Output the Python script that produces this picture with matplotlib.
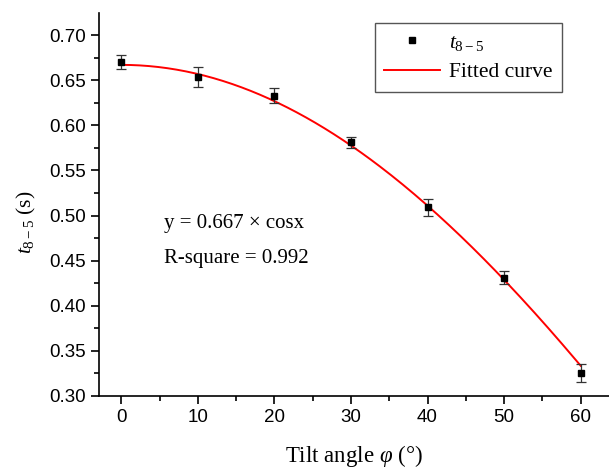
import numpy as np
import matplotlib.pyplot as plt
from matplotlib.lines import Line2D
from matplotlib.ticker import MultipleLocator

angles = [0, 10, 20, 30, 40, 50, 60]
t85 = [0.670, 0.654, 0.633, 0.581, 0.509, 0.431, 0.325]
t85_err = [0.008, 0.011, 0.008, 0.006, 0.009, 0.007, 0.010]

# fit parameter quoted on the chart: y = A * cos(x)
fit_A = 0.667
fit_r2 = 0.992

serif = 'Liberation Serif'
plt.rcParams['font.family'] = ['Liberation Sans', 'DejaVu Sans']
plt.rcParams['mathtext.fontset'] = 'custom'
plt.rcParams['mathtext.rm'] = 'Liberation Serif'
plt.rcParams['mathtext.it'] = 'Liberation Serif:italic'

fig = plt.figure(figsize=(6.09, 4.69), dpi=100)
ax = fig.add_axes([0.1626, 0.1557, 0.8374, 0.8166])

xs = np.linspace(angles[0], angles[-1], 200)
ax.plot(xs, fit_A * np.cos(np.radians(xs)), color='red', lw=1.4, zorder=2)
ax.errorbar(angles, t85, yerr=t85_err, fmt='s', color='black', ms=5,
            ecolor='#333333', elinewidth=0.9, capsize=3.5, capthick=0.9,
            zorder=3)

ax.set_xlim(-2.9, 63.7)
ax.set_ylim(0.30, 0.7245)
ax.xaxis.set_major_locator(MultipleLocator(10))
ax.xaxis.set_minor_locator(MultipleLocator(5))
ax.yaxis.set_major_locator(MultipleLocator(0.05))
ax.yaxis.set_minor_locator(MultipleLocator(0.025))
ax.yaxis.set_major_formatter(plt.FormatStrFormatter('%.2f'))
ax.tick_params(which='both', direction='out', width=1.2)
ax.tick_params(which='major', length=6, labelsize=13.5)
ax.tick_params(which='minor', length=3.5)
for s in ['top', 'right']:
    ax.spines[s].set_visible(False)
for s in ['left', 'bottom']:
    ax.spines[s].set_linewidth(1.2)

ax.set_xlabel(r'Tilt angle $\varphi$ (°)', fontsize=16.5, family=serif, labelpad=12)
ax.set_ylabel(r'$t_{8-5}$ (s)', fontsize=15.5, family=serif)
ax.yaxis.set_label_coords(-0.12, 0.454)

ax.text(5.6, 0.491, 'y = 0.667 × cosx', fontsize=15, family=serif, va='center')
ax.text(5.6, 0.452, f'R-square = {fit_r2}', fontsize=15, family=serif, va='center')

handles = [Line2D([], [], marker='s', ls='none', color='black', ms=5),
           Line2D([], [], color='red', lw=1.4)]
leg = ax.legend(handles, ['$t_{8-5}$', 'Fitted curve'], loc='upper right',
                bbox_to_anchor=(0.908, 0.974), fancybox=False, framealpha=1,
                edgecolor='#555555', prop={'family': serif, 'size': 15.5},
                handlelength=2.6, handletextpad=0.4, borderpad=0.45,
                labelspacing=0.45, borderaxespad=0)
leg.get_frame().set_linewidth(1.0)

fig.savefig('out.png', dpi=100)
